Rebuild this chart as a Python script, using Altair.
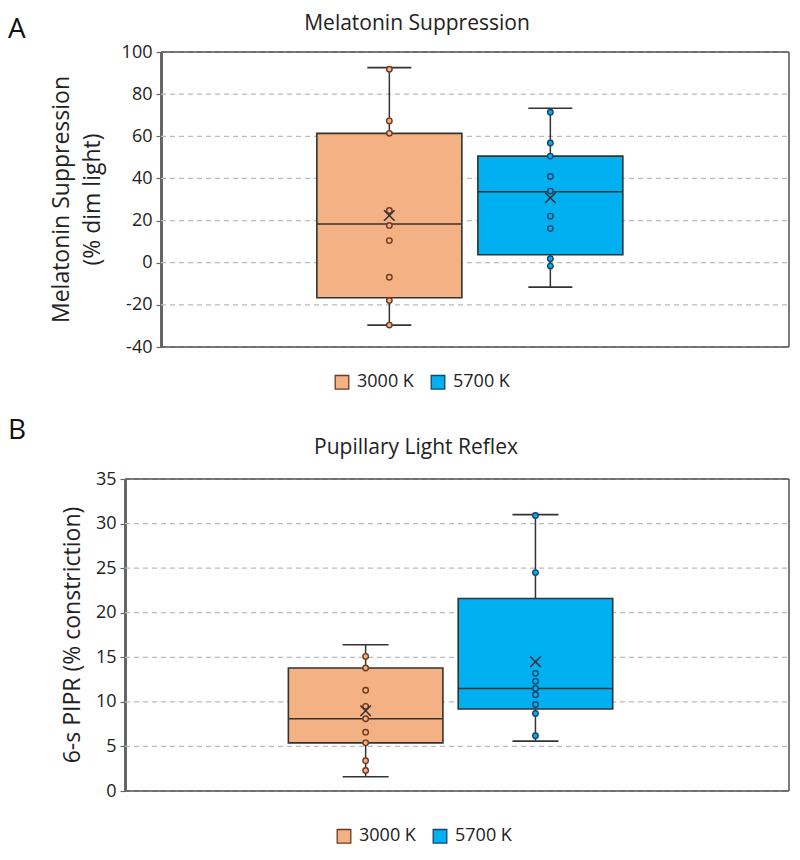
import altair as alt
import pandas as pd

FONT = "Open Sans"
TXT = "#222222"
LINE = "#333333"
FRAME = "#505050"
GRID = "#BBBBBB"

groups = ["3000 K", "5700 K"]
fill_colors = ["#F4B183", "#00B0F0"]
point_strokes = ["#6B3A22", "#17456A"]

# Panel A: Melatonin suppression (% dim light)
mel_q1 = [-16.6, 3.8]
mel_q3 = [61.4, 50.6]
mel_median = [18.4, 33.7]
mel_low = [-29.6, -11.6]
mel_high = [92.6, 73.3]
mel_mean = [22.4, 30.8]
mel_points_3000 = [91.8, 67.3, 61.4, 24.8, 17.7, 10.5, -6.9, -17.9, -29.6]
mel_points_5700 = [71.4, 56.8, 50.6, 40.9, 34.0, 22.1, 16.2, 1.9, -1.6]
mel_ticks = [-40, -20, 0, 20, 40, 60, 80, 100]
mel_ytitle = ["Melatonin Suppression", "(% dim light)"]

# Panel B: 6-s PIPR (% constriction)
pipr_q1 = [5.4, 9.2]
pipr_q3 = [13.8, 21.6]
pipr_median = [8.1, 11.5]
pipr_low = [1.6, 5.6]
pipr_high = [16.4, 31.0]
pipr_mean = [9.0, 14.5]
pipr_points_3000 = [15.1, 13.8, 11.3, 9.5, 8.1, 6.6, 5.4, 3.4, 2.3]
pipr_points_5700 = [30.9, 24.5, 13.2, 12.3, 11.5, 10.8, 9.7, 8.7, 6.2]
pipr_ticks = [0, 5, 10, 15, 20, 25, 30, 35]
pipr_ytitle = ["6-s PIPR (% constriction)"]

WIDTH = 664


def panel(letter, title, ytitle, ytitle_x, q1, q3, med, lo, hi, mean, pts_a, pts_b,
          ydomain, yticks, height, inset, pin, pout, palign, boxw, capw,
          title_x, title_y, letter_y, leg_x, leg_y):
    stats = pd.DataFrame({"group": groups, "q1": q1, "q3": q3, "median": med,
                          "low": lo, "high": hi, "mean": mean})
    pts = pd.DataFrame({"group": [groups[0]] * len(pts_a) + [groups[1]] * len(pts_b),
                        "q1": pts_a + pts_b})
    ticks = pd.DataFrame({"q1": yticks})
    xs = alt.Scale(domain=groups, range=[inset, WIDTH], paddingInner=pin,
                   paddingOuter=pout, align=palign)
    x = alt.X("group:N", scale=xs, axis=None)
    ys = alt.Scale(domain=ydomain, nice=False, zero=False)
    yax = alt.Axis(values=yticks, title=None, grid=False, offset=-inset,
                   domainColor="#666666", domainWidth=3, tickColor="#666666",
                   tickSize=5, tickWidth=1.2, labelExpr="'' + datum.value",
                   labelFontSize=18, labelFont=FONT, labelColor=TXT, labelPadding=4)
    grid = alt.Chart(ticks).mark_rule(color=GRID, strokeWidth=1.3,
                                      strokeDash=[5, 4]).encode(
        y=alt.Y("q1:Q", scale=ys, axis=yax), x=alt.value(inset), x2=alt.value(WIDTH))
    frame_h = alt.Chart(pd.DataFrame({"q1": [ydomain[0], ydomain[1]]})).mark_rule(
        color=FRAME, strokeWidth=1.5).encode(
        y="q1:Q", x=alt.value(inset), x2=alt.value(WIDTH))
    frame_v = alt.Chart(pd.DataFrame({"q1": [ydomain[0]], "high": [ydomain[1]]})).mark_rule(
        color=FRAME, strokeWidth=1.5).encode(
        y="q1:Q", y2="high:Q", x=alt.value(WIDTH))
    base = alt.Chart(stats)
    whisk_lo = base.mark_rule(color=LINE, strokeWidth=1.5).encode(
        x=x, y="low:Q", y2="q1:Q")
    whisk_hi = base.mark_rule(color=LINE, strokeWidth=1.5).encode(
        x=x, y="q3:Q", y2="high:Q")
    box = base.mark_bar(stroke=LINE, strokeWidth=1.6, opacity=1).encode(
        x=x, y="q1:Q", y2="q3:Q",
        fill=alt.Fill("group:N", scale=alt.Scale(domain=groups, range=fill_colors),
                      legend=alt.Legend(title=None, orient="none", legendX=leg_x,
                                        legendY=leg_y, direction="horizontal",
                                        symbolType="square", symbolSize=185,
                                        symbolStrokeColor="#404040",
                                        symbolStrokeWidth=1.3, symbolOpacity=1,
                                        labelFontSize=18, labelFont=FONT,
                                        labelColor=TXT, columnPadding=14,
                                        labelOffset=6)))
    median = base.mark_tick(color=LINE, size=boxw, thickness=1.6, opacity=1).encode(
        x=x, y="median:Q")
    cap_lo = base.mark_tick(color=LINE, size=capw, thickness=1.6, opacity=1).encode(
        x=x, y="low:Q")
    cap_hi = base.mark_tick(color=LINE, size=capw, thickness=1.6, opacity=1).encode(
        x=x, y="high:Q")
    points = alt.Chart(pts).mark_point(shape="circle", size=30, strokeWidth=1.4,
                                       opacity=1, filled=False).encode(
        x=x, y="q1:Q",
        fill=alt.Fill("group:N", legend=None),
        stroke=alt.Stroke("group:N", scale=alt.Scale(domain=groups, range=point_strokes),
                          legend=None))
    means = base.mark_point(shape="M-1,-1L1,1M-1,1L1,-1", size=110, stroke=LINE,
                            strokeWidth=1.6, filled=False, opacity=1).encode(
        x=x, y="mean:Q")
    lab = alt.Chart(pd.DataFrame({"t": [letter]})).mark_text(
        font=FONT, fontSize=28, color="#111111", align="left",
        baseline="alphabetic").encode(text="t:N", x=alt.value(-117),
                                      y=alt.value(letter_y))
    ttl = alt.Chart(pd.DataFrame({"t": [title]})).mark_text(
        font=FONT, fontSize=21, color=TXT, align="center",
        baseline="alphabetic").encode(text="t:N", x=alt.value(title_x),
                                      y=alt.value(title_y))
    layers = [grid, frame_h, frame_v, whisk_lo, whisk_hi, box, median, cap_lo, cap_hi,
              points, means, lab, ttl]
    for line, lx in zip(ytitle, ytitle_x):
        layers.append(alt.Chart(pd.DataFrame({"t": [line]})).mark_text(
            font=FONT, fontSize=23, color=TXT, align="center", baseline="middle",
            angle=270).encode(text="t:N", x=alt.value(lx), y=alt.value(height / 2)))
    return alt.layer(*layers).properties(width=WIDTH, height=height)


chart_a = panel("A", "Melatonin Suppression", mel_ytitle, [-63, -32],
                mel_q1, mel_q3, mel_median, mel_low, mel_high, mel_mean,
                mel_points_3000, mel_points_5700, [-40, 100], mel_ticks,
                295, 36, 0.0994, 1.0, 0.484, 145, 44,
                292, -22, -14, 208, 321)
chart_b = panel("B", "Pupillary Light Reflex", pipr_ytitle, [-52],
                pipr_q1, pipr_q3, pipr_median, pipr_low, pipr_high, pipr_mean,
                pipr_points_3000, pipr_points_5700, [0, 35], pipr_ticks,
                312, 0, 0.09, 1.0, 0.481, 154, 46,
                291, -25, -40, 210, 348)

indep = dict(y="independent", x="independent", fill="independent", stroke="independent")

chart = alt.vconcat(chart_a, chart_b, spacing=25).resolve_scale(**indep).properties(
    padding={"left": 0, "top": 5, "right": 0, "bottom": 0}).configure_view(
    stroke=None)

chart.save("out.html", embed_options={"renderer": "svg", "actions": False})
